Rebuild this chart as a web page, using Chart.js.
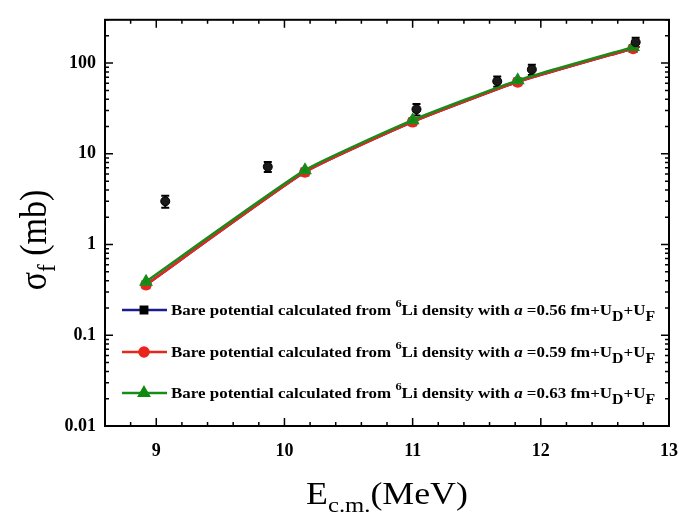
<!DOCTYPE html>
<html>
<head>
<meta charset="utf-8">
<script src="https://cdn.jsdelivr.net/npm/chart.js@4/dist/chart.umd.min.js"></script>
<style>
  html, body { margin: 0; padding: 0; background: #fff; }
  canvas { display: block; }
</style>
</head>
<body>
<canvas id="myChart" width="679" height="515"></canvas>
<script>
// experimental fission cross sections
const expE = [9.07, 9.87, 11.03, 11.66, 11.93, 12.74];
const expSigma = [3.0, 7.2, 31, 63, 85, 170];
const expErr = [0.45, 0.9, 4.5, 8, 11, 20];

// calculated curves
const calcE = [8.92, 10.16, 11.0, 11.82, 12.72];
const sigma056 = [0.36, 6.3, 22.5, 62, 145];
const sigma059 = [0.36, 6.3, 22.5, 62, 145];
const sigma063 = [0.39, 6.6, 23.5, 64.5, 150];

const xTicks = [9, 10, 11, 12, 13];
const yTicks = [0.01, 0.1, 1, 10, 100];
const aValues = ["0.56", "0.59", "0.63"];

const serif = "'Liberation Serif', 'Times New Roman', serif";
const ctx = document.getElementById("myChart");

const toPts = (xs, ys) => xs.map((x, i) => ({ x: x, y: ys[i] }));

// lower order is painted on top
const datasets = [
  {
    label: "exp",
    data: toPts(expE, expSigma),
    showLine: false,
    pointStyle: "circle",
    pointRadius: 4.5,
    backgroundColor: "#1a1a1a",
    borderColor: "#000",
    borderWidth: 1,
    order: 0,
  },
  {
    label: "a=0.56",
    data: toPts(calcE, sigma056),
    showLine: true,
    borderColor: "#1c1c8c",
    backgroundColor: "#000",
    pointStyle: "rect",
    pointRadius: 4.5,
    borderWidth: 2.5,
    tension: 0.15,
    order: 3,
  },
  {
    label: "a=0.59",
    data: toPts(calcE, sigma059),
    showLine: true,
    borderColor: "#e8261e",
    backgroundColor: "#e8261e",
    pointStyle: "circle",
    pointRadius: 4.5,
    borderWidth: 2.5,
    tension: 0.15,
    order: 2,
  },
  {
    label: "a=0.63",
    data: toPts(calcE, sigma063),
    showLine: true,
    borderColor: "#1a8a1a",
    backgroundColor: "#0e8a0e",
    pointStyle: "triangle",
    pointRadius: 5.5,
    borderWidth: 2.5,
    tension: 0.15,
    order: 1,
  },
];

// draw rich text pieces left to right
const drawPieces = (c, x, y, pieces) => {
  pieces.forEach((p) => {
    c.font = p.font;
    c.fillText(p.t, x, y + (p.dy || 0));
    x += c.measureText(p.t).width;
  });
  return x;
};

const piecesWidth = (c, pieces) => {
  let w = 0;
  pieces.forEach((p) => { c.font = p.font; w += c.measureText(p.t).width; });
  return w;
};

const legendPieces = (a) => {
  const b = "bold 15px " + serif;
  const bs = "bold 11px " + serif;
  const bsub = "bold 14px " + serif;
  return [
    { t: "Bare potential calculated from ", font: b },
    { t: "6", font: bs, dy: -8 },
    { t: "Li density with ", font: b },
    { t: "a", font: "italic bold 15px " + serif },
    { t: " =" + a + " fm+U", font: b },
    { t: "D", font: bsub, dy: 6 },
    { t: "+U", font: b },
    { t: "F", font: bsub, dy: 6 },
  ];
};

const framePlugin = {
  id: "frame",
  beforeDatasetsDraw(chart) {
    // error bars
    const c = chart.ctx;
    const xs = chart.scales.x, ys = chart.scales.y;
    c.save();
    c.strokeStyle = "#000";
    c.lineWidth = 2;
    expE.forEach((e, i) => {
      const px = xs.getPixelForValue(e);
      const top = ys.getPixelForValue(expSigma[i] + expErr[i]);
      const bot = ys.getPixelForValue(expSigma[i] - expErr[i]);
      c.beginPath();
      c.moveTo(px, top); c.lineTo(px, bot);
      c.moveTo(px - 4, top); c.lineTo(px + 4, top);
      c.moveTo(px - 4, bot); c.lineTo(px + 4, bot);
      c.stroke();
    });
    c.restore();
  },
  afterDraw(chart) {
    const c = chart.ctx;
    const a = chart.chartArea;
    const xs = chart.scales.x, ys = chart.scales.y;
    c.save();
    c.strokeStyle = "#000";
    c.lineWidth = 2;
    c.strokeRect(a.left, a.top, a.right - a.left, a.bottom - a.top);

    // x ticks, major every 1, minor every 0.2
    c.lineWidth = 1.5;
    c.beginPath();
    for (let k = 43; k <= 65; k++) {
      const v = k / 5;
      const px = xs.getPixelForValue(v);
      const len = k % 5 === 0 ? 8 : 4;
      c.moveTo(px, a.bottom); c.lineTo(px, a.bottom - len);
      c.moveTo(px, a.top); c.lineTo(px, a.top + len);
    }
    // y ticks, log minors
    for (let d = -2; d <= 2; d++) {
      for (let m = 1; m <= 9; m++) {
        const v = m * Math.pow(10, d);
        if (v > ys.max) continue;
        const py = ys.getPixelForValue(v);
        const len = m === 1 ? 8 : 4;
        c.moveTo(a.left, py); c.lineTo(a.left + len, py);
        c.moveTo(a.right, py); c.lineTo(a.right - len, py);
      }
    }
    c.stroke();

    // axis titles
    c.fillStyle = "#000";
    c.textBaseline = "alphabetic";
    const xt = [
      { t: "E", font: "32px " + serif },
      { t: "c.m.", font: "22px " + serif, dy: 8 },
      { t: "(MeV)", font: "32px " + serif },
    ];
    let w = piecesWidth(c, xt);
    c.save();
    c.translate((a.left + a.right) / 2, 504);
    c.scale(1.12, 1);
    drawPieces(c, -w / 2, 0, xt);
    c.restore();

    const yt = [
      { t: "\u03c3", font: "34px " + serif },
      { t: "f", font: "23px " + serif, dy: 8 },
      { t: " (mb)", font: "34px " + serif },
    ];
    w = piecesWidth(c, yt);
    c.save();
    c.translate(46, 240);
    c.rotate(-Math.PI / 2);
    c.scale(1, 1.12);
    drawPieces(c, -w / 2, 0, yt);
    c.restore();

    // legend
    const rows = [310, 352, 393];
    [1, 2, 3].forEach((di, i) => {
      const ds = chart.data.datasets[di];
      const y = rows[i];
      c.strokeStyle = ds.borderColor;
      c.lineWidth = 2.5;
      c.beginPath();
      c.moveTo(122, y); c.lineTo(167, y);
      c.stroke();
      c.fillStyle = ds.backgroundColor;
      c.strokeStyle = ds.backgroundColor;
      Chart.helpers.drawPoint(c, { pointStyle: ds.pointStyle, radius: ds.pointRadius, borderWidth: 1 }, 144, y);
      c.fillStyle = "#000";
      c.save();
      c.translate(171, y + 5);
      c.scale(1.13, 1);
      drawPieces(c, 0, 0, legendPieces(aValues[i]));
      c.restore();
    });
    c.restore();
  },
};

const myChart = new Chart(ctx, {
  type: "scatter",
  data: { datasets: datasets },
  options: {
    responsive: false,
    animation: false,
    layout: { padding: { top: 10, right: 0, left: 0, bottom: 0 } },
    plugins: { legend: { display: false }, tooltip: { enabled: false } },
    scales: {
      x: {
        type: "linear",
        min: 8.6,
        max: 13,
        // tick marks are drawn by the plugin, tickLength only spaces the labels
        grid: { display: false, drawTicks: true, tickLength: 14 },
        border: { display: false },
        afterBuildTicks: (s) => { s.ticks = xTicks.map((v) => ({ value: v })); },
        afterFit: (s) => { s.height = 89; },
        ticks: {
          padding: 1,
          color: "#000",
          font: { family: serif, size: 18, weight: "bold" },
          callback: (v) => String(v),
        },
      },
      y: {
        type: "logarithmic",
        min: 0.01,
        max: 300,
        grid: { display: false, drawTicks: false },
        border: { display: false },
        afterBuildTicks: (s) => { s.ticks = yTicks.map((v) => ({ value: v })); },
        afterFit: (s) => { s.width = 105; },
        ticks: {
          padding: 9,
          color: "#000",
          font: { family: serif, size: 18, weight: "bold" },
          callback: (v) => String(v),
        },
      },
    },
  },
  plugins: [framePlugin],
});
</script>
</body>
</html>
